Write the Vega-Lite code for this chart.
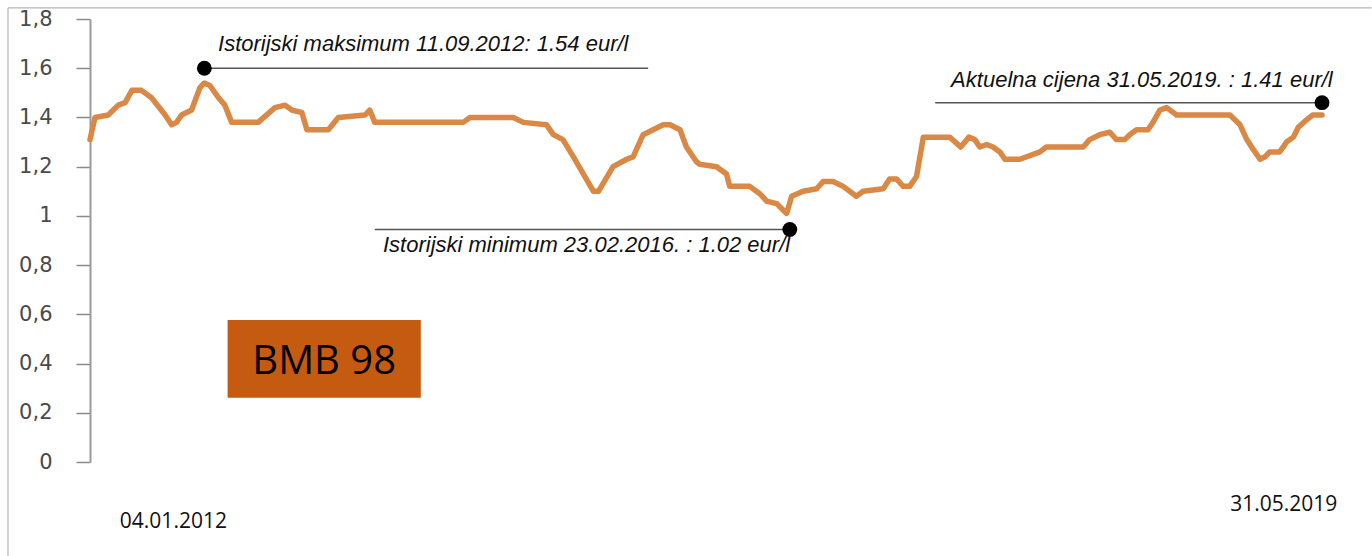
{
  "$schema": "https://vega.github.io/schema/vega-lite/v6.json",
  "width": 1232,
  "height": 443,
  "autosize": {"type": "none"},
  "padding": {"left": 90, "top": 19, "right": 50, "bottom": 94},
  "background": "white",
  "config": {"view": {"stroke": null}},
  "datasets": {
    "price": [
      {"date": "2012-01-04", "value": 1.31},
      {"date": "2012-01-15", "value": 1.40},
      {"date": "2012-02-13", "value": 1.41},
      {"date": "2012-03-06", "value": 1.45},
      {"date": "2012-03-21", "value": 1.46},
      {"date": "2012-04-05", "value": 1.51},
      {"date": "2012-04-26", "value": 1.51},
      {"date": "2012-05-18", "value": 1.48},
      {"date": "2012-06-17", "value": 1.41},
      {"date": "2012-07-01", "value": 1.37},
      {"date": "2012-07-12", "value": 1.38},
      {"date": "2012-07-23", "value": 1.41},
      {"date": "2012-08-14", "value": 1.43},
      {"date": "2012-09-01", "value": 1.52},
      {"date": "2012-09-11", "value": 1.54},
      {"date": "2012-09-23", "value": 1.53},
      {"date": "2012-10-12", "value": 1.48},
      {"date": "2012-10-26", "value": 1.45},
      {"date": "2012-11-10", "value": 1.38},
      {"date": "2013-01-07", "value": 1.38},
      {"date": "2013-02-13", "value": 1.44},
      {"date": "2013-03-07", "value": 1.45},
      {"date": "2013-03-22", "value": 1.43},
      {"date": "2013-04-13", "value": 1.42},
      {"date": "2013-04-24", "value": 1.35},
      {"date": "2013-06-10", "value": 1.35},
      {"date": "2013-07-02", "value": 1.40},
      {"date": "2013-08-30", "value": 1.41},
      {"date": "2013-09-09", "value": 1.43},
      {"date": "2013-09-20", "value": 1.38},
      {"date": "2014-04-02", "value": 1.38},
      {"date": "2014-04-17", "value": 1.40},
      {"date": "2014-07-21", "value": 1.40},
      {"date": "2014-08-12", "value": 1.38},
      {"date": "2014-10-02", "value": 1.37},
      {"date": "2014-10-17", "value": 1.33},
      {"date": "2014-11-07", "value": 1.31},
      {"date": "2014-11-30", "value": 1.24},
      {"date": "2015-01-13", "value": 1.10},
      {"date": "2015-01-24", "value": 1.10},
      {"date": "2015-02-25", "value": 1.20},
      {"date": "2015-03-27", "value": 1.23},
      {"date": "2015-04-10", "value": 1.24},
      {"date": "2015-05-02", "value": 1.33},
      {"date": "2015-05-24", "value": 1.35},
      {"date": "2015-06-15", "value": 1.37},
      {"date": "2015-06-30", "value": 1.37},
      {"date": "2015-07-22", "value": 1.35},
      {"date": "2015-08-05", "value": 1.28},
      {"date": "2015-08-27", "value": 1.22},
      {"date": "2015-09-03", "value": 1.21},
      {"date": "2015-10-10", "value": 1.20},
      {"date": "2015-11-01", "value": 1.17},
      {"date": "2015-11-08", "value": 1.12},
      {"date": "2015-12-22", "value": 1.12},
      {"date": "2016-01-13", "value": 1.09},
      {"date": "2016-01-28", "value": 1.06},
      {"date": "2016-02-19", "value": 1.05},
      {"date": "2016-03-12", "value": 1.01},
      {"date": "2016-03-23", "value": 1.08},
      {"date": "2016-04-17", "value": 1.10},
      {"date": "2016-05-17", "value": 1.11},
      {"date": "2016-05-31", "value": 1.14},
      {"date": "2016-06-22", "value": 1.14},
      {"date": "2016-07-14", "value": 1.12},
      {"date": "2016-08-12", "value": 1.08},
      {"date": "2016-08-27", "value": 1.10},
      {"date": "2016-10-10", "value": 1.11},
      {"date": "2016-10-24", "value": 1.15},
      {"date": "2016-11-08", "value": 1.15},
      {"date": "2016-11-23", "value": 1.12},
      {"date": "2016-12-07", "value": 1.12},
      {"date": "2016-12-22", "value": 1.16},
      {"date": "2017-01-06", "value": 1.32},
      {"date": "2017-03-05", "value": 1.32},
      {"date": "2017-03-29", "value": 1.28},
      {"date": "2017-04-16", "value": 1.32},
      {"date": "2017-04-29", "value": 1.31},
      {"date": "2017-05-10", "value": 1.28},
      {"date": "2017-05-25", "value": 1.29},
      {"date": "2017-06-08", "value": 1.28},
      {"date": "2017-06-23", "value": 1.26},
      {"date": "2017-07-04", "value": 1.23},
      {"date": "2017-08-06", "value": 1.23},
      {"date": "2017-09-19", "value": 1.26},
      {"date": "2017-10-03", "value": 1.28},
      {"date": "2017-12-23", "value": 1.28},
      {"date": "2018-01-06", "value": 1.31},
      {"date": "2018-01-28", "value": 1.33},
      {"date": "2018-02-19", "value": 1.34},
      {"date": "2018-03-06", "value": 1.31},
      {"date": "2018-03-24", "value": 1.31},
      {"date": "2018-04-04", "value": 1.33},
      {"date": "2018-04-19", "value": 1.35},
      {"date": "2018-05-14", "value": 1.35},
      {"date": "2018-05-25", "value": 1.38},
      {"date": "2018-06-09", "value": 1.43},
      {"date": "2018-06-24", "value": 1.44},
      {"date": "2018-07-16", "value": 1.41},
      {"date": "2018-11-10", "value": 1.41},
      {"date": "2018-12-02", "value": 1.37},
      {"date": "2018-12-17", "value": 1.31},
      {"date": "2018-12-31", "value": 1.27},
      {"date": "2019-01-15", "value": 1.23},
      {"date": "2019-01-26", "value": 1.24},
      {"date": "2019-02-05", "value": 1.26},
      {"date": "2019-02-27", "value": 1.26},
      {"date": "2019-03-07", "value": 1.28},
      {"date": "2019-03-14", "value": 1.30},
      {"date": "2019-03-29", "value": 1.32},
      {"date": "2019-04-09", "value": 1.36},
      {"date": "2019-04-27", "value": 1.39},
      {"date": "2019-05-11", "value": 1.41},
      {"date": "2019-05-31", "value": 1.41}
    ],
    "frame": [
      {"date": "2011-07-08", "value": 1.845, "date2": "2019-09-17", "value2": 1.845},
      {"date": "2011-07-08", "value": 1.845, "date2": "2011-07-08", "value2": -0.382}
    ],
    "leaders": [
      {"date": "2012-09-11", "value": 1.6, "date2": "2015-05-13"},
      {"date": "2013-09-20", "value": 0.945, "date2": "2016-03-19"},
      {"date": "2017-02-01", "value": 1.46, "date2": "2019-05-31"}
    ],
    "dots": [
      {"date": "2012-09-11", "value": 1.6},
      {"date": "2016-03-19", "value": 0.945},
      {"date": "2019-05-31", "value": 1.46}
    ],
    "notes": [
      {"date": "2012-10-11", "value": 1.672, "text": "Istorijski maksimum 11.09.2012:  1.54 eur/l"},
      {"date": "2013-10-08", "value": 0.854, "text": "Istorijski minimum 23.02.2016. : 1.02 eur/l"},
      {"date": "2017-03-08", "value": 1.522, "text": "Aktuelna cijena  31.05.2019. : 1.41 eur/l"}
    ],
    "ends": [
      {"date": "2012-07-05", "value": -0.268, "text": "04.01.2012"},
      {"date": "2019-03-08", "value": -0.201, "text": "31.05.2019"}
    ],
    "box": [
      {"date": "2012-11-01", "value": 0.261, "date2": "2013-12-30", "value2": 0.577}
    ],
    "boxlabel": [
      {"date": "2013-06-01", "value": 0.3575, "text": "BMB 98"}
    ]
  },
  "encoding": {
    "x": {
      "field": "date",
      "type": "temporal",
      "scale": {"domain": [{"year": 2012, "month": 1, "date": 4, "utc": true}, {"year": 2019, "month": 5, "date": 31, "utc": true}]},
      "axis": null
    },
    "y": {
      "field": "value",
      "type": "quantitative",
      "scale": {"domain": [0, 1.8], "nice": false},
      "axis": {
        "title": null,
        "values": [0, 0.2, 0.4, 0.6, 0.8, 1, 1.2, 1.4, 1.6, 1.8],
        "labelExpr": "replace(format(datum.value, '.1~f'), '.', ',')",
        "grid": false,
        "domainColor": "#9a9a9a",
        "domainWidth": 2,
        "tickColor": "#8a8a8a",
        "tickWidth": 1.5,
        "tickSize": 14,
        "labelPadding": 24,
        "labelFont": "DejaVu Sans",
        "labelFontSize": 21,
        "labelColor": "#4a4a4a"
      }
    }
  },
  "layer": [
    {
      "data": {"name": "frame"},
      "mark": {"type": "rule", "color": "#b4b4b4", "strokeWidth": 1.2, "clip": false},
      "encoding": {
        "x2": {"field": "date2"},
        "y2": {"field": "value2"}
      }
    },
    {
      "data": {"name": "box"},
      "mark": {"type": "rect", "color": "#C55A11"},
      "encoding": {
        "x2": {"field": "date2"},
        "y2": {"field": "value2"}
      }
    },
    {
      "data": {"name": "leaders"},
      "mark": {"type": "rule", "color": "#555555", "strokeWidth": 1.6},
      "encoding": {
        "x2": {"field": "date2"}
      }
    },
    {
      "data": {"name": "price"},
      "mark": {"type": "line", "color": "#d98845", "strokeWidth": 5.5, "strokeJoin": "round", "strokeCap": "round"}
    },
    {
      "data": {"name": "dots"},
      "mark": {"type": "circle", "color": "#000000", "opacity": 1, "size": 220}
    },
    {
      "data": {"name": "notes"},
      "mark": {"type": "text", "align": "left", "baseline": "alphabetic", "font": "Liberation Sans", "fontStyle": "italic", "fontSize": 22, "color": "#111111"},
      "encoding": {"text": {"field": "text"}}
    },
    {
      "data": {"name": "ends"},
      "mark": {"type": "text", "align": "center", "baseline": "alphabetic", "font": "Open Sans", "fontSize": 21, "color": "#111111"},
      "encoding": {"text": {"field": "text"}}
    },
    {
      "data": {"name": "boxlabel"},
      "mark": {"type": "text", "align": "center", "baseline": "alphabetic", "font": "Open Sans", "fontSize": 40, "color": "#000000"},
      "encoding": {"text": {"field": "text"}}
    }
  ]
}
